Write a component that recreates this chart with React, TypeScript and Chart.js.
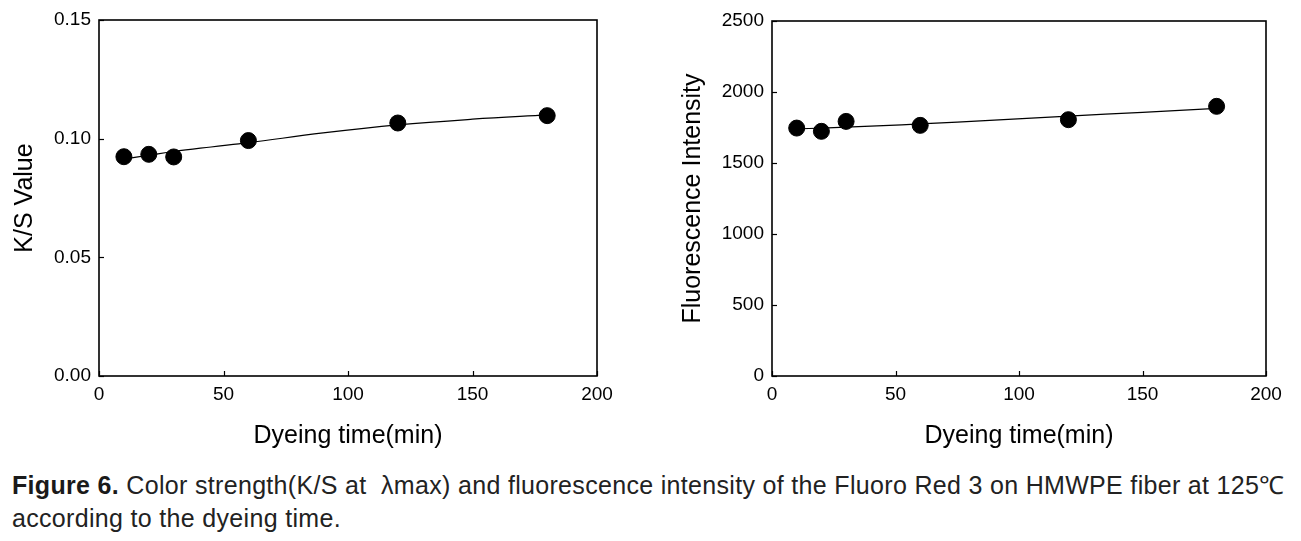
import React, { useEffect, useRef } from "react";
import { Chart, registerables } from "chart.js";

Chart.register(...registerables);

// ---- data ----
const dyeTimes = [10, 20, 30, 60, 120, 180];
const ksValues = [0.0924, 0.0934, 0.0923, 0.0992, 0.1066, 0.1097];
const fluoValues = [1746, 1723, 1793, 1765, 1805, 1899];

// fitted curves
const fitTimes = [10, 20, 30, 45, 60, 90, 120, 150, 180];
const ksFit = [0.0914, 0.0930, 0.0946, 0.0965, 0.0983, 0.1024, 0.1058, 0.1082, 0.1100];
const fluoFit = [1740, 1746, 1752, 1763, 1775, 1802, 1830, 1857, 1884];

const xTicks = [0, 50, 100, 150, 200];
const ksTicks = [0, 0.05, 0.1, 0.15];
const fluoTicks = [0, 500, 1000, 1500, 2000, 2500];

const xTitle = "Dyeing time(min)";
const ksTitle = "K/S Value";
const fluoTitle = "Fluorescence Intensity";

const FONT = "'Liberation Sans', Arial, sans-serif";

const framePlugin = {
  id: "frameTicks",
  afterDatasetsDraw(chart: any) {
    const { ctx, chartArea: a, scales } = chart;
    ctx.save();
    ctx.strokeStyle = "#000";
    ctx.lineWidth = 1.6;
    ctx.strokeRect(a.left, a.top, a.right - a.left, a.bottom - a.top);
    ctx.lineWidth = 1.2;
    const len = 5;
    scales.x.ticks.forEach((t: any) => {
      const px = Math.round(scales.x.getPixelForValue(t.value)) + 0.5;
      ctx.beginPath();
      ctx.moveTo(px, a.bottom);
      ctx.lineTo(px, a.bottom - len);
      ctx.stroke();
    });
    scales.y.ticks.forEach((t: any) => {
      const py = Math.round(scales.y.getPixelForValue(t.value)) + 0.5;
      ctx.beginPath();
      ctx.moveTo(a.left, py);
      ctx.lineTo(a.left + len, py);
      ctx.stroke();
    });
    ctx.restore();
  },
};

type PanelProps = {
  left: number;
  width: number;
  height: number;
  yWidth: number;
  xHeight: number;
  padTop: number;
  padRight: number;
  values: number[];
  fit: number[];
  yTicks: number[];
  yMax: number;
  yTitle: string;
  fmt: (v: number) => string;
};

function Panel(p: PanelProps) {
  const ref = useRef<HTMLCanvasElement | null>(null);
  useEffect(() => {
    if (!ref.current) return;
    const chart = new Chart(ref.current, {
      type: "scatter",
      data: {
        datasets: [
          {
            type: "line",
            data: fitTimes.map((x, i) => ({ x, y: p.fit[i] })),
            borderColor: "#000",
            borderWidth: 1.2,
            pointRadius: 0,
            tension: 0.4,
            fill: false,
          } as any,
          {
            type: "scatter",
            data: dyeTimes.map((x, i) => ({ x, y: p.values[i] })),
            backgroundColor: "#000",
            borderColor: "#000",
            pointRadius: 8,
            pointHoverRadius: 8,
          },
        ],
      },
      options: {
        responsive: false,
        animation: false,
        events: [],
        layout: { padding: { left: 0, top: p.padTop, right: p.padRight, bottom: 0 } },
        plugins: { legend: { display: false }, tooltip: { enabled: false } },
        scales: {
          x: {
            type: "linear",
            min: 0,
            max: 200,
            grid: { display: false, drawTicks: false },
            border: { display: false },
            afterBuildTicks: (s: any) => {
              s.ticks = xTicks.map((v) => ({ value: v }));
            },
            afterFit: (s: any) => {
              s.height = p.xHeight;
            },
            ticks: {
              padding: 7,
              color: "#000",
              font: { family: FONT, size: 19 },
              callback: (v: any) => String(v),
            },
            title: {
              display: true,
              text: xTitle,
              color: "#000",
              font: { family: FONT, size: 25 },
              padding: { top: 0, bottom: 9 },
            },
          },
          y: {
            type: "linear",
            min: 0,
            max: p.yMax,
            grid: { display: false, drawTicks: false },
            border: { display: false },
            afterBuildTicks: (s: any) => {
              s.ticks = p.yTicks.map((v) => ({ value: v }));
            },
            afterFit: (s: any) => {
              s.width = p.yWidth;
            },
            ticks: {
              padding: 8,
              color: "#000",
              font: { family: FONT, size: 19 },
              callback: (v: any) => p.fmt(Number(v)),
            },
            title: {
              display: true,
              text: p.yTitle,
              color: "#000",
              font: { family: FONT, size: 25 },
              padding: { top: 10, bottom: 0 },
            },
          },
        },
      },
      plugins: [framePlugin],
    });
    return () => chart.destroy();
  }, []);
  return (
    <canvas
      ref={ref}
      width={p.width}
      height={p.height}
      style={{ position: "absolute", left: p.left, top: 0, width: p.width, height: p.height }}
    />
  );
}

export default function App() {
  return (
    <div
      style={{
        position: "fixed",
        left: 0,
        top: 0,
        width: 1301,
        height: 541,
        background: "#fff",
        overflow: "hidden",
      }}
    >
      <Panel
        left={0}
        width={640}
        height={460}
        yWidth={99}
        xHeight={84}
        padTop={20}
        padRight={43}
        values={ksValues}
        fit={ksFit}
        yTicks={ksTicks}
        yMax={0.15}
        yTitle={ksTitle}
        fmt={(v) => v.toFixed(2)}
      />
      <Panel
        left={668}
        width={633}
        height={460}
        yWidth={104}
        xHeight={84}
        padTop={21}
        padRight={35}
        values={fluoValues}
        fit={fluoFit}
        yTicks={fluoTicks}
        yMax={2500}
        yTitle={fluoTitle}
        fmt={(v) => String(v)}
      />
      <div
        style={{
          position: "absolute",
          left: 12,
          top: 469,
          width: 1295,
          fontFamily: FONT,
          fontSize: 25,
          lineHeight: "33px",
          letterSpacing: "0.32px",
          color: "#222",
          whiteSpace: "nowrap",
        }}
      >
        <div>
          <span style={{ color: "#1a1a1a", fontWeight: "bold" }}>Figure 6.</span> Color
          strength(K/S at &nbsp;λmax) and fluorescence intensity of the Fluoro Red 3 on HMWPE
          fiber at 125℃
        </div>
        <div>according to the dyeing time.</div>
      </div>
    </div>
  );
}
